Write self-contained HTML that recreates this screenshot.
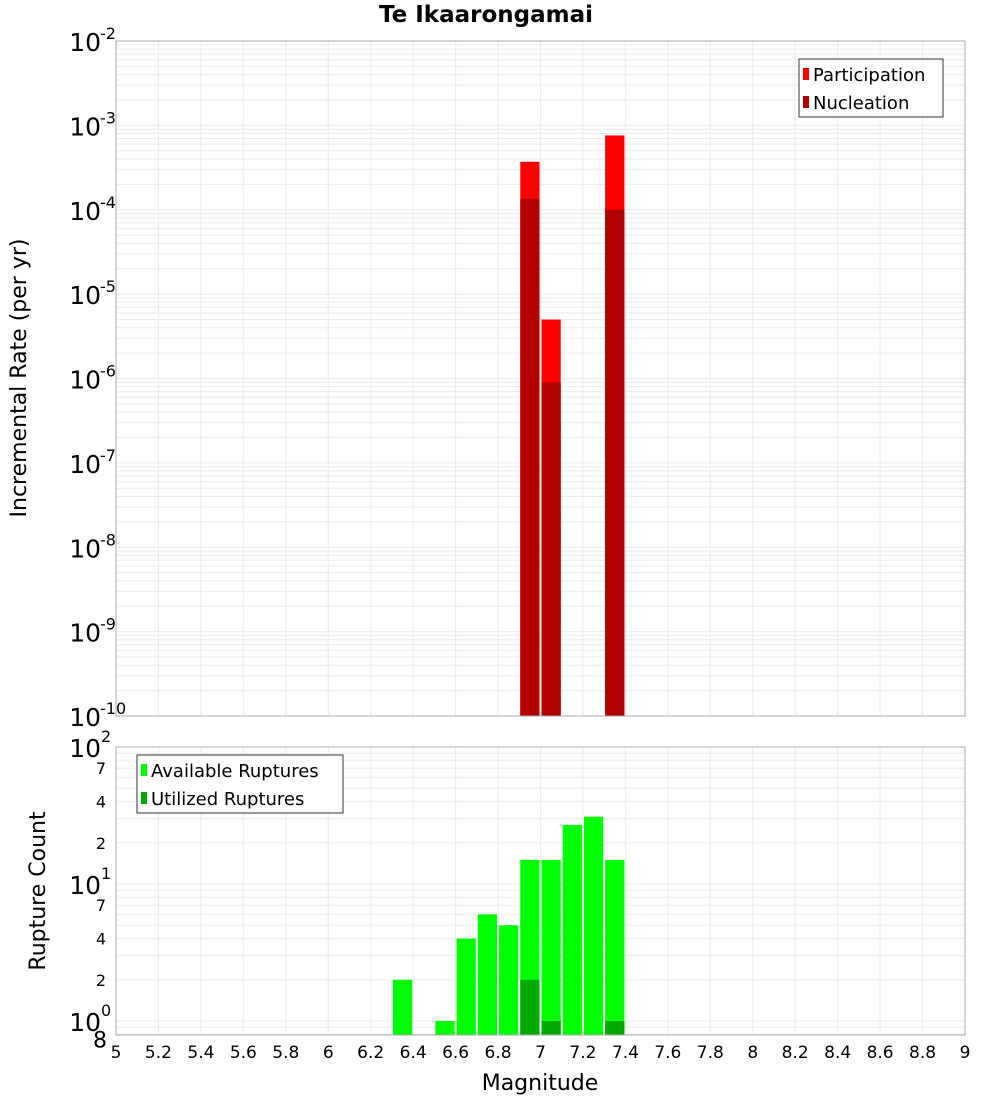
<!DOCTYPE html>
<html><head><meta charset="utf-8"><style>
html,body{margin:0;padding:0;background:#fff;}
svg{display:block;font-family:"DejaVu Sans","Liberation Sans",sans-serif;}
</style></head><body>
<svg id="c" width="1000" height="1100" xmlns="http://www.w3.org/2000/svg"></svg>
<script>
// Data
const topMags = [6.95, 7.05, 7.35];
const participation = [3.7e-4, 5.0e-6, 7.6e-4];
const nucleation = [1.35e-4, 9.0e-7, 1.0e-4];
const botMags = [6.35, 6.55, 6.65, 6.75, 6.85, 6.95, 7.05, 7.15, 7.25, 7.35];
const available = [2, 1, 4, 6, 5, 15, 15, 27, 31, 15];
const utilMags = [6.95, 7.05, 7.35];
const utilized = [2, 1, 1];
const xTicks = [5,5.2,5.4,5.6,5.8,6,6.2,6.4,6.6,6.8,7,7.2,7.4,7.6,7.8,8,8.2,8.4,8.6,8.8,9];
const topExps = [-2,-3,-4,-5,-6,-7,-8,-9,-10];

const NS="http://www.w3.org/2000/svg";
const svg=document.getElementById('c');
function el(tag,attrs,parent){const e=document.createElementNS(NS,tag);for(const k in attrs)e.setAttribute(k,attrs[k]);(parent||svg).appendChild(e);return e;}
const X0=116,X1=965;
const xs=m=>X0+(m-5)/4*(X1-X0);
const T0=41,T1=716;
const yT=v=>T0+(-2-Math.log10(v))*(T1-T0)/8;
const B0=747,B1=1035,BDEC=137;
const yB=v=>B0+(2-Math.log10(v))*BDEC;
const bw=(X1-X0)/40;

const t=el('text',{x:486,y:22,'text-anchor':'middle','font-size':'23','font-weight':'bold',fill:'#000'});
t.textContent='Te Ikaarongamai';



function grid(top,bot,yf,lo,hi,name){
  const g=el('g',{});
  
  
  for(let e=lo;e<hi;e++){for(let k=1;k<10;k++){const v=k*Math.pow(10,e);const y=yf(v);if(y<top||y>bot)continue;
    el('line',{x1:X0,x2:X1,y1:y,y2:y,stroke:'#ebebeb','stroke-width':1},g);}}
  for(const m of xTicks){const x=xs(m);el('line',{x1:x,x2:x,y1:top,y2:bot,stroke:'#ebebeb','stroke-width':1},g);}
}
grid(T0,T1,yT,-10,-2,'top-grid');
grid(B0,B1,yB,-1,2,'bottom-grid');

topMags.forEach((m,i)=>{
  const x=xs(m)-bw/2+1;
  const yp=yT(participation[i]);
  const r=el('rect',{x:x,y:yp,width:bw-2,height:T1-yp,fill:'#ff0000'});
  
  
  const yn=yT(nucleation[i]);
  const r2=el('rect',{x:x,y:yn,width:bw-2,height:T1-yn,fill:'#b30000'});
  
  
});
botMags.forEach((m,i)=>{
  const x=xs(m)-bw/2+1;const y=yB(available[i]);
  const r=el('rect',{x:x,y:y,width:bw-2,height:B1-y,fill:'#00ff00'});
  
  
});
utilMags.forEach((m,i)=>{
  const x=xs(m)-bw/2+1;const y=yB(utilized[i]);
  const r=el('rect',{x:x,y:y,width:bw-2,height:B1-y,fill:'#00aa00'});
  
  
});

const f1=el('rect',{x:X0,y:T0,width:X1-X0,height:T1-T0,fill:'none',stroke:'#aaa','stroke-width':1});


const f2=el('rect',{x:X0,y:B0,width:X1-X0,height:B1-B0,fill:'none',stroke:'#aaa','stroke-width':1});



topExps.forEach(e=>{
  const y=yT(Math.pow(10,e));
  const tx=el('text',{x:101,y:y+10,'text-anchor':'end','font-size':'25',fill:'#000'});
  tx.textContent='10';
  
  
  const sp=el('text',{x:100,y:y-2,'font-size':'16',fill:'#000'});
  sp.textContent=String(e);
  
  
});
[2,1,0].forEach(e=>{
  const y=yB(Math.pow(10,e));
  const tx=el('text',{x:101,y:y+10,'text-anchor':'end','font-size':'25',fill:'#000'});
  tx.textContent='10';
  
  
  const sp=el('text',{x:101,y:y-5,'font-size':'16',fill:'#000'});
  sp.textContent=String(e);
  
  
});
[[70,'7'],[40,'4'],[20,'2'],[7,'7'],[4,'4'],[2,'2'],[0.8,'8']].forEach(([v,l])=>{
  const y=yB(v);
  const big=(l==='8');
  const tx=el('text',{x:big?107:106,y:big?y+13:y+6,'text-anchor':'end','font-size':big?'22':'16',fill:'#000'});
  tx.textContent=l;
  
  
});

xTicks.forEach(m=>{
  const tx=el('text',{x:xs(m),y:1058,'text-anchor':'middle','font-size':'17',fill:'#000'});
  tx.textContent=String(m);
  
  
});
const xt=el('text',{x:540,y:1090,'text-anchor':'middle','font-size':'22',fill:'#000'});
xt.textContent='Magnitude';


const yt1=el('text',{x:0,y:0,'text-anchor':'middle','font-size':'22',fill:'#000',transform:'translate(26,378) rotate(-90)'});
yt1.textContent='Incremental Rate (per yr)';


const yt2=el('text',{x:0,y:0,'text-anchor':'middle','font-size':'22',fill:'#000',transform:'translate(45,891) rotate(-90)'});
yt2.textContent='Rupture Count';



function legend(x,y,w,h,items,name){
  const g=el('g',{});
  
  
  el('rect',{x:x,y:y,width:w,height:h,fill:'#fff',stroke:'#333','stroke-width':1},g);
  items.forEach(([c,l],i)=>{
    const yy=y+8+i*28;
    el('rect',{x:x+4,y:yy+1,width:6,height:12,fill:c},g);
    const tx=el('text',{x:x+14,y:yy+14,'font-size':'18',fill:'#000'},g);
    tx.textContent=l;
  });
}
legend(799,59,144,58,[['#ff0000','Participation'],['#b30000','Nucleation']],'top-legend');
legend(137,755,206,58,[['#00ff00','Available Ruptures'],['#00aa00','Utilized Ruptures']],'bottom-legend');
</script>
</body></html>
